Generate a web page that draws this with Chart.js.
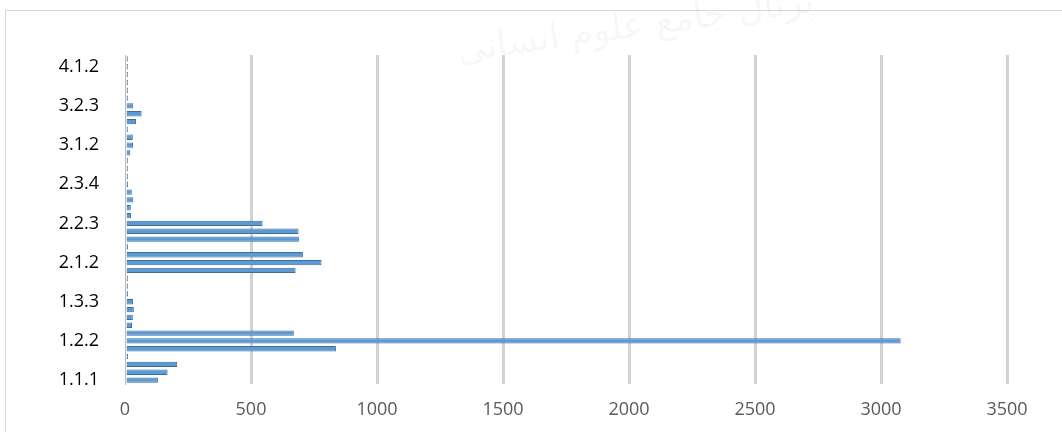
<!DOCTYPE html>
<html>
<head>
<meta charset="utf-8">
<script src="https://cdn.jsdelivr.net/npm/chart.js@4.4.1/dist/chart.umd.min.js"></script>
<style>
  html, body { margin: 0; padding: 0; background: #fff; }
  #wrap { position: relative; width: 1062px; height: 432px; overflow: hidden; }
  #frame { position: absolute; left: 5px; top: 10px; width: 1100px; height: 500px;
           border-top: 1px solid #d9d9d9; border-left: 1px solid #d9d9d9; }
  #mark { position: absolute; left: 455px; top: 4px; font: 36px "DejaVu Sans", sans-serif;
          color: rgba(0,0,0,0.045); transform: rotate(-8deg); white-space: nowrap; direction: rtl; }
  canvas { position: absolute; left: 0; top: 0; }
</style>
</head>
<body>
<div id="wrap">
  <div id="frame"></div>
  <div id="mark">پرتال جامع علوم انسانی</div>
  <canvas id="barChart" width="1062" height="432"></canvas>
</div>
<script>
// 指標代碼 (由下而上)
var codes = [
  '1.1.1', '1.1.2', '1.1.3', '1.1.4', '1.2.1', '1.2.2', '1.2.3', '1.2.4',
  '1.3.1', '1.3.2', '1.3.3', '1.3.4', '1.4.1', '1.4.2', '2.1.1', '2.1.2',
  '2.1.3', '2.1.4', '2.2.1', '2.2.2', '2.2.3', '2.2.4', '2.3.1', '2.3.2',
  '2.3.3', '2.3.4', '2.4.1', '2.4.2', '2.4.3', '3.1.1', '3.1.2', '3.1.3',
  '3.1.4', '3.2.1', '3.2.2', '3.2.3', '3.2.4', '3.3.1', '3.3.2', '4.1.1',
  '4.1.2', '4.1.3'
];

// 各指標數值
var counts = [
  132, 169, 207, 5, 837, 3078, 670, 28,
  31, 35, 32, 4, 0, 0, 677, 780,
  706, 6, 690, 689, 546, 24, 23, 33,
  27, 4, 0, 0, 0, 21, 32, 31,
  0, 44, 66, 33, 0, 0, 0, 0,
  0, 0
];

var xTicks = [0, 500, 1000, 1500, 2000, 2500, 3000, 3500];

var baseFont = '"Open Sans", sans-serif';

function init() {                       // 繪圖初始
  var ctx = document.getElementById('barChart').getContext('2d');

  new Chart(ctx, {
    type: 'bar',
    data: {
      labels: codes,
      datasets: [{
        data: counts,
        backgroundColor: function (c) {   // 0 值畫成灰色小點
          return c.raw === 0 ? '#a8a8a8' : '#5b9bd5';
        },
        borderColor: function (c) {
          return c.raw === 0 ? '#808080' : '#3e6d99';
        },
        borderWidth: 1,
        minBarLength: 3,
        barPercentage: 0.68,
        categoryPercentage: 1
      }]
    },
    options: {
      indexAxis: 'y',
      responsive: false,
      animation: false,
      layout: { padding: { left: 0, top: 55, right: 55, bottom: 0 } },
      plugins: { legend: { display: false }, tooltip: { enabled: false } },
      scales: {
        x: {
          min: 0,
          max: 3500,
          afterBuildTicks: function (scale) {
            scale.ticks = xTicks.map(function (v) { return { value: v }; });
          },
          afterFit: function (scale) { scale.height = 48; },
          grid: {
            color: function (c) { return c.tick && c.tick.value === 0 ? 'rgba(0,0,0,0)' : '#d2d2d2'; },
            lineWidth: 3,
            drawTicks: false
          },
          border: { display: false },
          ticks: {
            padding: 15,
            color: '#595959',
            font: { family: baseFont, size: 18 },
            callback: function (v) { return String(v); }
          }
        },
        y: {
          reverse: true,
          afterFit: function (scale) { scale.width = 125; },
          grid: { display: false, drawTicks: false },
          border: { display: true, color: '#bdbdbd', width: 1, z: -1 },
          ticks: {
            autoSkip: false,
            padding: 26,
            color: '#000',
            font: { family: baseFont, size: 18 },
            callback: function (v, i) {   // 每 5 項顯示一個代碼
              return i % 5 === 0 ? codes[i] : '';
            }
          }
        }
      }
    }
  });
}

init();
</script>
</body>
</html>
